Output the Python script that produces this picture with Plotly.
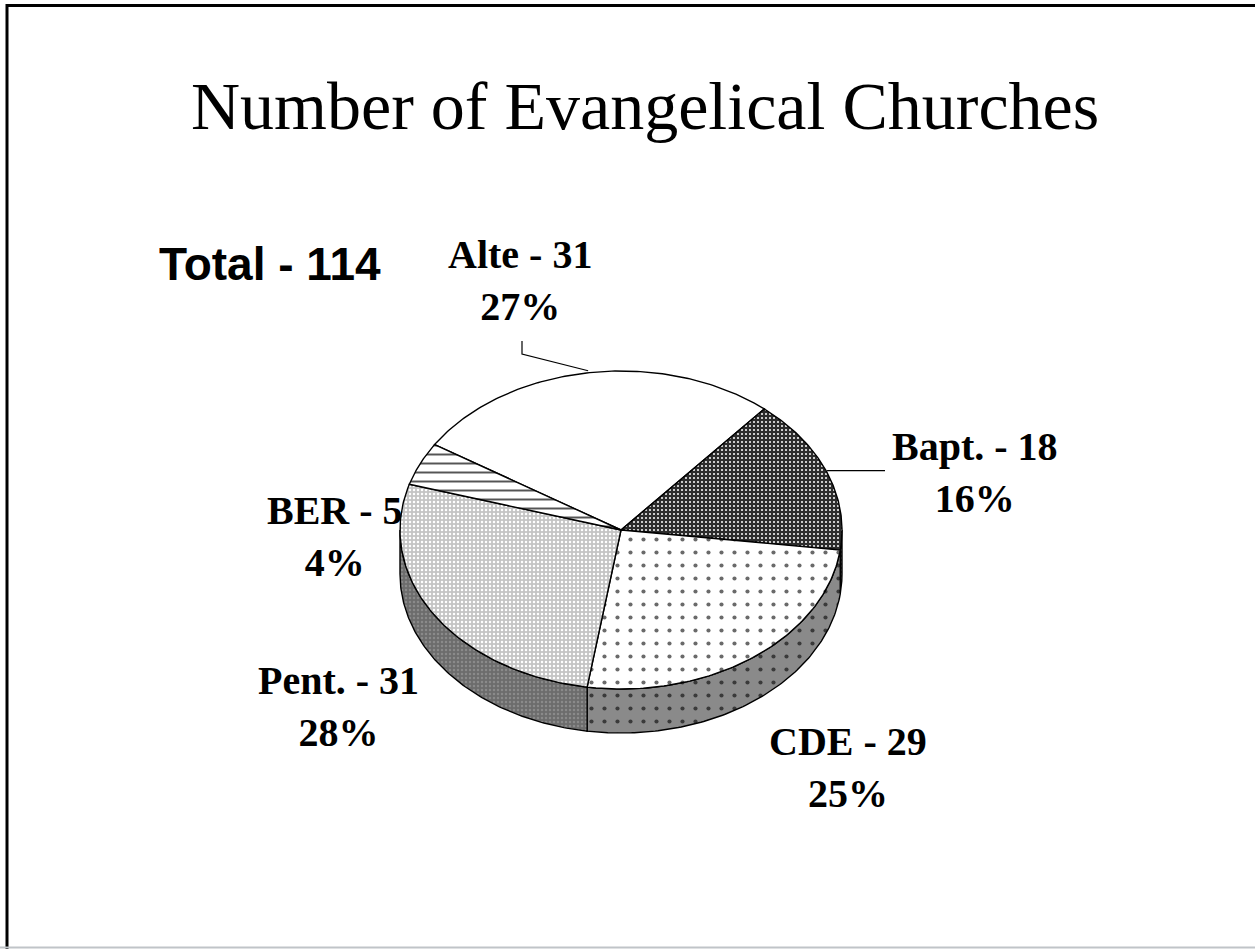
import numpy as np
import plotly.graph_objects as go

# ---- data -------------------------------------------------------------
CATEGORIES = ["Alte", "Bapt.", "CDE", "Pent.", "BER"]
COUNTS = [31, 18, 29, 31, 5]
PERCENT_LABELS = [27, 16, 25, 28, 4]
TITLE = "Number of Evangelical Churches"
TOTAL_LABEL = "Total - 114"

# ---- geometry of the tilted pie (pixel space of the page) -------------
W, H = 1255, 949
CX, CY = 621, 530          # centre of the top face
RX, RY = 221, 159          # semi-axes of the top face
DEPTH = 44                 # thickness of the disc
START_ANGLE = 147.5        # degrees, slices run clockwise from here

TOP_STYLE = {
    "Alte": dict(bg="#ffffff", fg="#ffffff", shape="", size=8, sol=0.1),
    "Bapt.": dict(bg="#2c2c2c", fg="#ffffff", shape=".", size=4, sol=0.2),
    "CDE": dict(bg="#ffffff", fg="#6a6a6a", shape=".", size=13, sol=0.08),
    "Pent.": dict(bg="#c4c4c4", fg="#ffffff", shape=".", size=4, sol=0.3),
    "BER": dict(bg="#ffffff", fg="#555555", shape="-", size=9, sol=0.22),
}
SIDE_STYLE = {
    "Alte": dict(bg="#bbbbbb", fg="#bbbbbb", shape="", size=8, sol=0.1),
    "Bapt.": dict(bg="#2e2e2e", fg="#777777", shape=".", size=4, sol=0.2),
    "CDE": dict(bg="#8a8a8a", fg="#3a3a3a", shape=".", size=13, sol=0.08),
    "Pent.": dict(bg="#6c6c6c", fg="#8a8a8a", shape=".", size=4, sol=0.3),
    "BER": dict(bg="#666666", fg="#999999", shape="-", size=9, sol=0.2),
}


def rim(a_from, a_to, dy=0.0, n=120):
    t = np.radians(np.linspace(a_from, a_to, n))
    return CX + RX * np.cos(t), CY - RY * np.sin(t) + dy


def pattern(st):
    return dict(shape=st["shape"], bgcolor=st["bg"], fgcolor=st["fg"],
                size=st["size"], solidity=st["sol"], fillmode="replace")


total = sum(COUNTS)
sweeps = [c / total * 360.0 for c in COUNTS]
starts, ends = [], []
a = START_ANGLE
for s in sweeps:
    starts.append(a)
    ends.append(a - s)
    a -= s

fig = go.Figure()

# side walls: only the front half (-180..0 deg) is visible
for cat, hi, lo in zip(CATEGORIES, starts, ends):
    for shift in (0.0, 360.0):
        h = min(hi + shift, 0.0)
        l = max(lo + shift, -180.0)
        if h - l <= 0.01:
            continue
        tx, ty = rim(h, l)
        bx, by = rim(l, h, dy=DEPTH)
        st = SIDE_STYLE[cat]
        fig.add_trace(go.Scatter(
            x=np.concatenate([tx, bx, tx[:1]]),
            y=np.concatenate([ty, by, ty[:1]]),
            mode="lines", fill="toself", fillcolor=st["bg"],
            fillpattern=pattern(st),
            line=dict(color="black", width=1.4),
            hoverinfo="skip", showlegend=False))

# top faces
for cat, hi, lo in zip(CATEGORIES, starts, ends):
    rx, ry = rim(hi, lo)
    st = TOP_STYLE[cat]
    fig.add_trace(go.Scatter(
        x=np.concatenate([[CX], rx, [CX]]),
        y=np.concatenate([[CY], ry, [CY]]),
        mode="lines", fill="toself", fillcolor=st["bg"],
        fillpattern=pattern(st),
        line=dict(color="black", width=1.4),
        hoverinfo="skip", showlegend=False))

# data labels
LABEL_POS = {
    "Alte": (520, 280),
    "Bapt.": (975, 472),
    "CDE": (848, 767),
    "Pent.": (338, 706),
    "BER": (335, 536),
}
for cat, cnt, pct in zip(CATEGORIES, COUNTS, PERCENT_LABELS):
    lx, ly = LABEL_POS[cat]
    fig.add_annotation(
        x=lx, y=ly, xref="x", yref="y", showarrow=False,
        text=f"<b>{cat} - {cnt}</b><br><b>{pct}%</b>",
        font=dict(family="Liberation Serif", size=40, color="black"),
        align="center", xanchor="center", yanchor="middle")

# leader lines from the rim at the slice mid-angle
mid = {c: (h + l) / 2 for c, h, l in zip(CATEGORIES, starts, ends)}
ax, ay = rim(mid["Alte"], mid["Alte"], n=1)
fig.add_trace(go.Scatter(x=[ax[0], 522, 522], y=[ay[0] - 2, 354, 341],
                         mode="lines", line=dict(color="black", width=1.2),
                         hoverinfo="skip", showlegend=False))
bx_, by_ = rim(mid["Bapt."], mid["Bapt."], n=1)
fig.add_trace(go.Scatter(x=[bx_[0], 885], y=[by_[0] - 2, by_[0] - 2],
                         mode="lines", line=dict(color="black", width=1.2),
                         hoverinfo="skip", showlegend=False))

# title and total
fig.add_annotation(x=645, y=106, xref="x", yref="y", showarrow=False,
                   text=TITLE, xanchor="center", yanchor="middle",
                   font=dict(family="Liberation Serif", size=68, color="black"))
fig.add_annotation(x=270, y=264, xref="x", yref="y", showarrow=False,
                   text=f"<b>{TOTAL_LABEL}</b>", xanchor="center", yanchor="middle",
                   font=dict(family="Liberation Sans", size=46, color="black"))

# slide frame
fig.add_shape(type="line", xref="paper", yref="paper", x0=0.005, x1=1,
              y0=1 - 5.5 / H, y1=1 - 5.5 / H, line=dict(color="black", width=3))
fig.add_shape(type="line", xref="paper", yref="paper", x0=7 / W, x1=7 / W,
              y0=0, y1=1 - 4 / H, line=dict(color="black", width=3))
fig.add_shape(type="line", xref="paper", yref="paper", x0=0, x1=1,
              y0=1.5 / H, y1=1.5 / H, line=dict(color="#c0c4c8", width=2))

fig.update_layout(
    width=W, height=H,
    margin=dict(l=0, r=0, t=0, b=0),
    paper_bgcolor="white", plot_bgcolor="white",
    showlegend=False,
    xaxis=dict(range=[0, W], visible=False, fixedrange=True),
    yaxis=dict(range=[H, 0], visible=False, fixedrange=True),
)

fig.write_html("out.html", config={"displayModeBar": False},
               post_script="document.body.style.margin='0';")
